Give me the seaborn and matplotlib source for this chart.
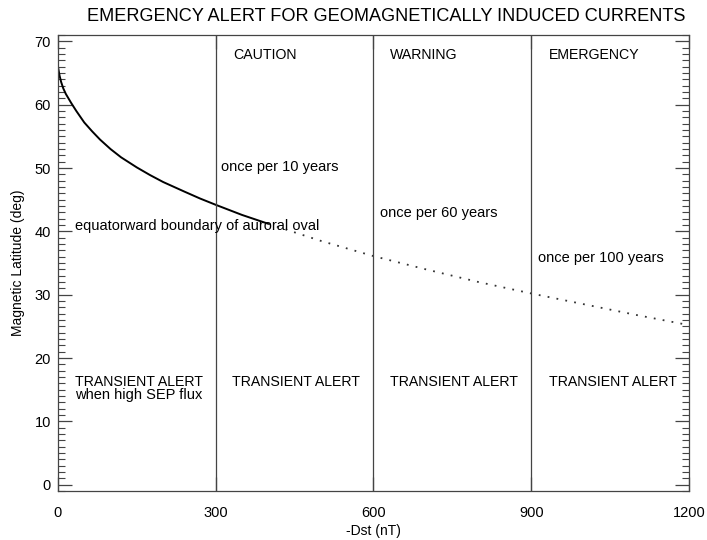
import matplotlib
matplotlib.use("Agg")
import matplotlib.pyplot as plt
import seaborn as sns
import pandas as pd
from matplotlib.ticker import MultipleLocator

# Data
dst_solid = [0, 3, 6, 10, 15, 20, 25, 35, 50, 65, 80, 100, 120, 150, 175, 200, 240, 270, 300, 350, 400]
lat_solid = [66.0, 64.6, 63.6, 62.6, 61.7, 61.0, 60.3, 59.0, 57.2, 55.8, 54.5, 53.0, 51.7,
             50.1, 48.9, 47.8, 46.3, 45.2, 44.2, 42.6, 41.2]
dst_dotted = [400, 500, 600, 700, 800, 900, 1000, 1100, 1200]
lat_dotted = [41.2, 38.5, 36.1, 34.0, 32.0, 30.2, 28.5, 26.8, 25.2]
thresholds = [300, 600, 900]
levels = ["CAUTION", "WARNING", "EMERGENCY"]
level_x = [333, 631, 933]
freq_labels = ["once per 10 years", "once per 60 years", "once per 100 years"]
freq_x = [310, 612, 912]
freq_y = [50.2, 42.9, 35.8]
transient_x = [32, 331, 631, 933]
x_ticks = [0, 300, 600, 900, 1200]
y_ticks = [0, 10, 20, 30, 40, 50, 60, 70]

sns.set_style("ticks")
plt.rcParams['font.family'] = ['Liberation Sans', 'DejaVu Sans']
plt.rcParams['text.color'] = 'black'
plt.rcParams['axes.labelcolor'] = 'black'
plt.rcParams['xtick.labelcolor'] = 'black'
plt.rcParams['ytick.labelcolor'] = 'black'

fig = plt.figure(figsize=(7.07, 5.40), dpi=100)
ax = fig.add_axes([0.082, 0.0907, 0.8925, 0.8443])

df_s = pd.DataFrame({"x": dst_solid, "y": lat_solid})
df_d = pd.DataFrame({"x": dst_dotted, "y": lat_dotted})
sns.lineplot(data=df_s, x="x", y="y", ax=ax, color="black", lw=1.4, sort=False)
sns.lineplot(data=df_d, x="x", y="y", ax=ax, color="#333333", lw=1.3, sort=False,
             linestyle=(0, (1, 4)))

for t in thresholds:
    ax.axvline(t, color="#444444", lw=0.9)

fs = 10.2
for lx, lab in zip(level_x, levels):
    ax.text(lx, 67.8, lab, fontsize=fs, va="center", ha="left")
for fx, fy, lab in zip(freq_x, freq_y, freq_labels):
    ax.text(fx, fy, lab, fontsize=fs + 0.3, va="center", ha="left")
ax.text(32, 40.8, "equatorward boundary of auroral oval", fontsize=fs + 0.3, va="center", ha="left")
for tx in transient_x:
    ax.text(tx, 16.2, "TRANSIENT ALERT", fontsize=fs, va="center", ha="left")
ax.text(32, 14.2, "when high SEP flux", fontsize=fs + 0.3, va="center", ha="left")

ax.set_xlim(0, 1200)
ax.set_ylim(-1, 71)
ax.set_xticks(x_ticks)
ax.set_xticklabels([str(v) for v in x_ticks])
ax.set_yticks(y_ticks)
ax.set_yticklabels([str(v) for v in y_ticks])
ax.yaxis.set_minor_locator(MultipleLocator(1))
ax.tick_params(axis="y", which="major", direction="in", length=10, width=0.9,
               left=True, right=True, labelsize=10.5, pad=5, color="#444444")
ax.tick_params(axis="y", which="minor", direction="in", length=5, width=0.8,
               left=True, right=True, color="#444444")
ax.tick_params(axis="x", which="major", direction="in", length=10, width=0.9,
               bottom=True, top=True, labelsize=10.5, pad=11, color="#444444")
for s in ax.spines.values():
    s.set_color("#444444")
    s.set_linewidth(0.9)

ax.set_xlabel("-Dst (nT)", fontsize=10, labelpad=3)
ax.set_ylabel("Magnetic Latitude (deg)", fontsize=10, labelpad=7)
fig.suptitle("EMERGENCY ALERT FOR GEOMAGNETICALLY INDUCED CURRENTS", fontsize=13.1,
             x=0.547, y=0.985, va="top")

fig.savefig("out.png", dpi=100)
